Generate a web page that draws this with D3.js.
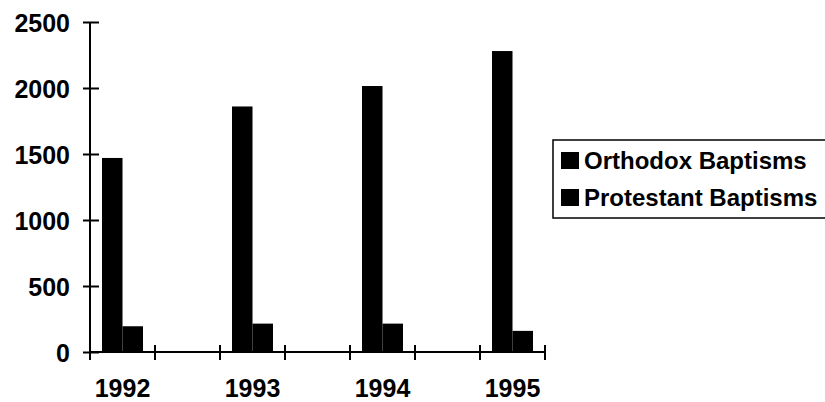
<!DOCTYPE html>
<html>
<head>
<meta charset="utf-8">
<script src="https://cdn.jsdelivr.net/npm/d3@7/dist/d3.min.js"></script>
<style>
  html, body { margin: 0; padding: 0; background: #fff; }
  svg { display: block; }
  text { font-family: "Liberation Sans", Arial, sans-serif; font-weight: bold; fill: #000; }
</style>
</head>
<body>
<svg id="chart" width="825" height="402"></svg>
<script>
const years = ["1992", "1993", "1994", "1995"];
const seriesNames = ["Orthodox Baptisms", "Protestant Baptisms"];
const orthodox = [1470, 1860, 2015, 2280];
const protestant = [195, 215, 215, 160];
const yTicks = [0, 500, 1000, 1500, 2000, 2500];
const seriesColors = ["#000000", "#000000"];

const svg = d3.select("#chart");
const seriesValues = [orthodox, protestant];

const x = d3.scaleBand().domain(years).range([90, 545]).paddingInner(0.5).paddingOuter(0);
const y = d3.scaleLinear().domain([0, 2500]).range([352, 22]);
const x1 = d3.scaleBand().domain(seriesNames).range([12, 53]).padding(0);

// bars
const groups = svg.append("g").selectAll("g")
  .data(years)
  .join("g")
  .attr("transform", d => `translate(${x(d)},0)`);

groups.selectAll("rect")
  .data((d, i) => seriesNames.map((s, j) => ({ s, v: seriesValues[j][i], c: seriesColors[j] })))
  .join("rect")
  .attr("x", d => x1(d.s))
  .attr("width", x1.bandwidth())
  .attr("y", d => y(d.v))
  .attr("height", d => y(0) - y(d.v))
  .attr("fill", d => d.c);

// y axis
const yAxis = svg.append("g")
  .attr("transform", "translate(90,0)")
  .call(d3.axisLeft(y).tickValues(yTicks).tickFormat(d3.format("d")).tickSize(7).tickPadding(13));
yAxis.select(".domain").attr("stroke", "#000").attr("stroke-width", 2).attr("d", `M0,${y(2500)}V${y(0)}`);
yAxis.selectAll(".tick line").attr("x1", -7).attr("x2", 9).attr("stroke", "#000").attr("stroke-width", 2);
yAxis.selectAll(".tick text").attr("font-size", 25).attr("x", -20).attr("dy", "0.36em")
  .style("font-family", "'Liberation Sans', Arial, sans-serif").style("font-weight", "bold");

// x axis
const xAxis = svg.append("g").attr("transform", `translate(0,${y(0)})`);
xAxis.append("line").attr("x1", 90).attr("x2", 545).attr("y1", 0).attr("y2", 0)
  .attr("stroke", "#000").attr("stroke-width", 2);
const tickPos = [];
years.forEach(d => { tickPos.push(x(d)); tickPos.push(x(d) + x.bandwidth()); });
xAxis.selectAll("line.tk").data(tickPos).join("line").attr("class", "tk")
  .attr("x1", d => d).attr("x2", d => d).attr("y1", -7).attr("y2", 8)
  .attr("stroke", "#000").attr("stroke-width", 2);
xAxis.selectAll("text").data(years).join("text")
  .attr("x", d => x(d) + x.bandwidth() / 2)
  .attr("y", 45)
  .attr("text-anchor", "middle")
  .attr("font-size", 25)
  .text(d => d);

// legend
const legend = svg.append("g");
legend.append("rect").attr("x", 553).attr("y", 140).attr("width", 290).attr("height", 78)
  .attr("fill", "none").attr("stroke", "#000").attr("stroke-width", 1.5);
const li = legend.selectAll("g.li").data(seriesNames).join("g").attr("class", "li")
  .attr("transform", (d, i) => `translate(561,${152 + i * 37})`);
li.append("rect").attr("width", 18).attr("height", 17).attr("fill", (d, i) => seriesColors[i]);
li.append("text").attr("x", 23).attr("y", 16.5).attr("font-size", 24).text(d => d);
</script>
</body>
</html>
